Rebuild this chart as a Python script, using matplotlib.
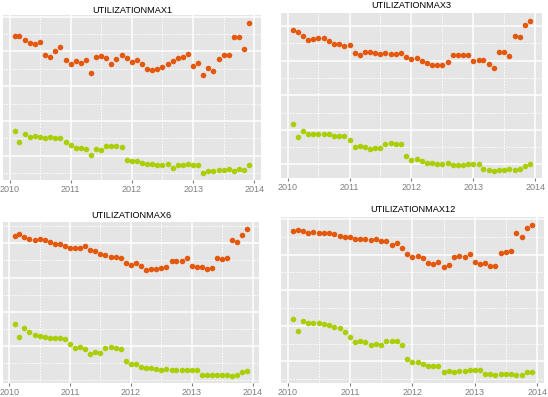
import pandas as pd
import matplotlib
matplotlib.use("Agg")
import matplotlib.pyplot as plt

# Monthly observations, Feb 2010 - Dec 2013
months = pd.date_range("2010-02-01", periods=47, freq="MS")

# Values (no y labels, so arbitrary units)
max1_high = [89.0, 89.0, 86.9, 85.1, 84.5, 85.5, 78.2, 76.8, 80.1, 82.6, 74.9, 72.8,
             74.3, 73.3, 74.9, 67.9, 76.8, 77.4, 76.0, 72.8, 75.7, 77.8, 76.4, 73.9,
             74.9, 72.8, 70.2, 69.3, 70.2, 71.0, 72.8, 74.3, 76.0, 76.8, 78.7, 71.6,
             73.5, 66.2, 70.4, 68.9, 75.7, 77.8, 78.2, 88.6, 88.6, 81.6, 96.7]
max1_low = [34.3, 28.1, 32.4, 30.6, 31.4, 31.0, 30.0, 30.8, 29.9, 30.0, 27.9, 26.4,
            24.3, 24.6, 23.9, 20.4, 23.7, 23.3, 25.6, 25.4, 25.8, 25.0, 17.7, 16.9,
            16.7, 15.9, 15.2, 15.2, 14.8, 14.8, 15.2, 12.9, 14.4, 14.8, 15.2, 14.8,
            14.8, 10.3, 11.3, 11.1, 11.7, 11.7, 12.1, 11.3, 12.1, 11.7, 14.4]

max3_high = [97.7, 96.8, 94.5, 92.0, 92.6, 93.0, 93.0, 91.6, 89.5, 89.9, 88.4, 89.3,
             84.7, 83.4, 85.3, 85.1, 84.2, 84.0, 84.4, 84.0, 83.8, 84.2, 82.3, 80.9,
             81.7, 79.8, 78.4, 77.7, 77.7, 77.7, 79.2, 83.2, 83.2, 83.2, 83.2, 79.6,
             80.4, 80.4, 78.1, 76.0, 84.9, 84.9, 82.8, 94.3, 93.7, 100.6, 103.3]
max3_low = [43.3, 35.7, 39.3, 37.8, 37.8, 37.8, 37.8, 37.8, 36.6, 36.4, 36.2, 33.9,
            30.3, 30.7, 29.9, 28.6, 29.7, 29.2, 31.7, 32.4, 31.8, 31.5, 24.6, 22.7,
            22.9, 21.7, 20.8, 20.8, 20.4, 20.4, 20.8, 19.8, 19.8, 19.8, 20.2, 20.2,
            20.2, 17.5, 16.9, 16.4, 16.8, 16.9, 17.3, 16.6, 17.3, 18.9, 20.0]

max6_high = [84.3, 85.2, 83.7, 82.3, 81.8, 82.5, 82.0, 81.0, 79.8, 79.8, 78.3, 77.1,
             77.5, 77.5, 78.3, 76.1, 75.2, 73.8, 72.9, 72.1, 72.1, 71.1, 68.6, 67.4,
             68.2, 66.5, 64.3, 64.7, 64.9, 65.3, 66.1, 69.9, 69.9, 69.9, 71.5, 66.7,
             65.9, 66.1, 65.1, 65.5, 71.5, 70.7, 71.3, 82.0, 80.8, 85.0, 88.1]
max6_low = [32.8, 25.6, 30.3, 28.1, 26.4, 25.8, 25.6, 25.0, 24.6, 24.6, 24.1, 21.4,
            18.8, 19.6, 18.6, 15.7, 16.7, 16.3, 18.8, 19.4, 18.8, 18.6, 11.3, 9.4,
            9.7, 8.0, 7.2, 7.2, 6.8, 6.4, 6.8, 6.1, 6.1, 6.1, 6.3, 5.9,
            5.9, 3.4, 3.0, 3.0, 3.0, 3.2, 3.2, 2.8, 3.4, 4.9, 5.3]

max12_high = [93.5, 94.1, 93.2, 91.9, 92.6, 92.2, 91.9, 91.9, 91.5, 90.7, 89.8, 90.0,
              88.5, 88.5, 88.7, 88.3, 88.7, 87.7, 87.7, 85.6, 86.4, 83.6, 80.2, 78.9,
              79.4, 77.9, 75.5, 74.5, 75.9, 73.0, 74.2, 78.7, 79.4, 78.9, 80.2, 76.1,
              74.9, 75.3, 73.6, 73.6, 80.8, 81.5, 81.9, 91.9, 89.8, 94.9, 96.9]
max12_low = [43.9, 37.1, 42.8, 41.6, 41.8, 41.6, 41.1, 40.5, 39.6, 38.6, 36.7, 33.7,
             30.9, 31.7, 30.9, 29.0, 30.0, 29.0, 31.3, 31.7, 31.3, 29.4, 21.5, 19.4,
             19.8, 18.5, 17.6, 17.6, 17.4, 14.2, 14.5, 14.2, 14.4, 14.5, 15.1, 15.1,
             14.9, 12.9, 12.7, 12.5, 12.7, 12.7, 12.9, 12.1, 12.5, 14.0, 14.2]

titles = ["UTILIZATIONMAX1", "UTILIZATIONMAX3", "UTILIZATIONMAX6", "UTILIZATIONMAX12"]
highs = [max1_high, max3_high, max6_high, max12_high]
lows = [max1_low, max3_low, max6_low, max12_low]
year_labels = ["2010", "2011", "2012", "2013", "2014"]

ORANGE = "#E4580C"
GREEN = "#A9CF03"
W, H = 548, 397

# panel boxes in pixels: x0, x1, y0, y1 (y from top), plus title y
boxes = [(3, 261, 15, 180, 10.5), (281, 542, 13, 178, 6),
         (3, 259, 222, 383, 215), (281, 544, 217, 383, 210)]

plt.rcParams["font.family"] = ["Liberation Sans", "DejaVu Sans"]
fig = plt.figure(figsize=(W / 100, H / 100), dpi=100)

year_ticks = [pd.Timestamp(f"{y}-01-01") for y in year_labels]
half_ticks = [pd.Timestamp(f"{y}-07-01") for y in year_labels[:-1]]

for title, high, low, (x0, x1, y0, y1, ty) in zip(titles, highs, lows, boxes):
    ax = fig.add_axes([x0 / W, 1 - y1 / H, (x1 - x0) / W, (y1 - y0) / H])
    ax.set_facecolor("#E5E5E5")
    ax.scatter(months, high, s=16, color=ORANGE, linewidths=0, zorder=3)
    ax.scatter(months, low, s=16, color=GREEN, linewidths=0, zorder=3)
    ax.margins(x=0.05, y=0.05)

    ylo, yhi = ax.get_ylim()
    ax.set_xticks(year_ticks)
    ax.set_xticklabels(year_labels)
    ax.set_xticks(half_ticks, minor=True)
    ax.set_yticks([v for v in range(20, 120, 20) if ylo < v < yhi])
    ax.set_yticks([v for v in range(0, 120, 10) if v % 20 and ylo < v < yhi] +
                  ([0] if ylo < 0 else []), minor=True)
    ax.set_yticklabels([])
    ax.grid(which="major", color="white", linewidth=1.1)
    ax.grid(which="minor", color="white", linewidth=0.7, linestyle=(0, (1.5, 1.5)))
    ax.set_axisbelow(True)
    for s in ax.spines.values():
        s.set_visible(False)
    ax.tick_params(axis="x", which="major", length=2, color="#7F7F7F",
                   labelsize=6.5, labelcolor="#7F7F7F", pad=1.5)
    ax.tick_params(axis="both", which="minor", length=0)
    ax.tick_params(axis="y", which="major", length=0)
    fig.text((x0 + x1) / 2 / W, 1 - ty / H, title, ha="center", va="center",
             fontsize=6.6, color="black")

fig.savefig("out.png", dpi=100)
